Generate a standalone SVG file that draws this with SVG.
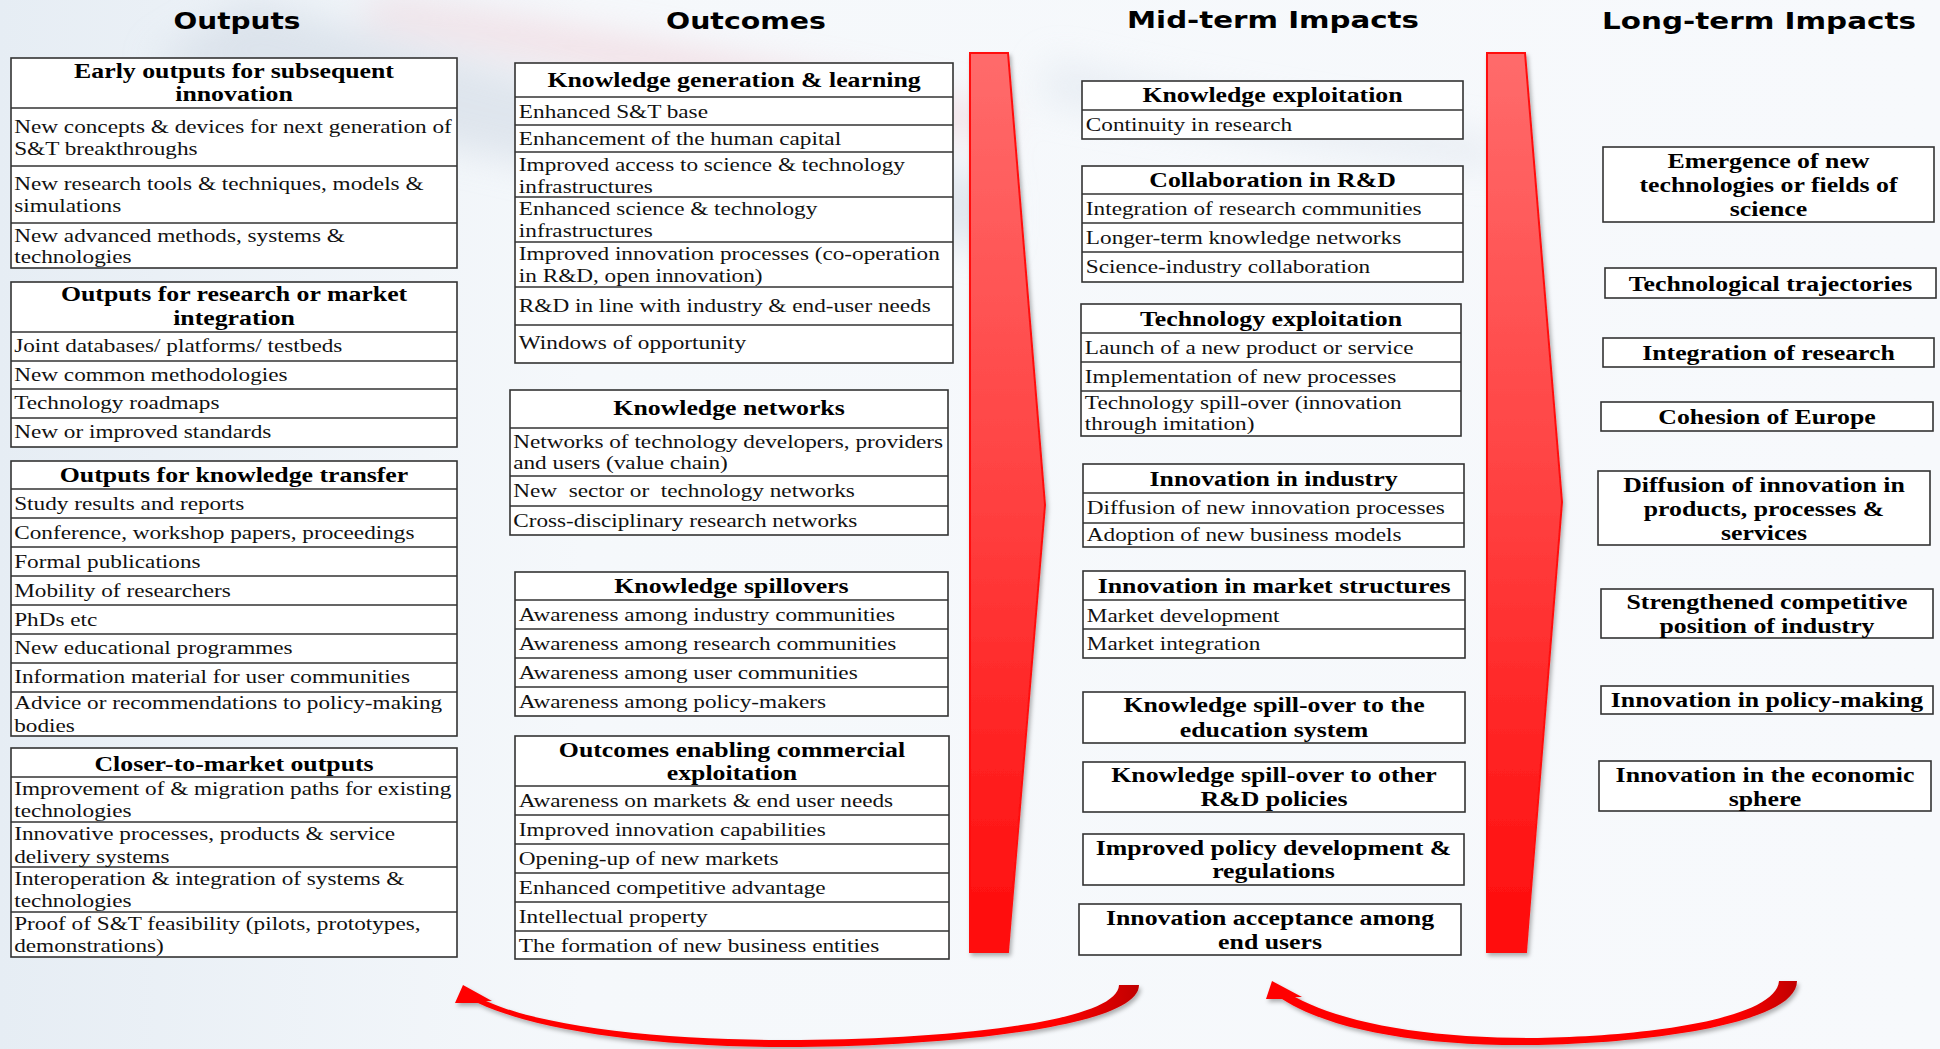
<svg xmlns="http://www.w3.org/2000/svg" width="1940" height="1049" viewBox="0 0 1940 1049">
<defs>
<style>
.t{font-family:"Liberation Serif","Times New Roman",serif;font-size:18px;fill:#111}
.h{font-family:"Liberation Serif","Times New Roman",serif;font-size:20px;font-weight:bold;fill:#000;text-anchor:middle}
.ttl{font-family:"DejaVu Sans",Verdana,sans-serif;font-size:23px;font-weight:bold;fill:#000;text-anchor:middle}
.box{fill:#fff;stroke:#333;stroke-width:1.6}
.sep{fill:none;stroke:#333;stroke-width:1.4}
.pre{white-space:pre}
</style>
<linearGradient id="bg" x1="0" y1="0" x2="1" y2="0">
<stop offset="0" stop-color="#e6edf4"/>
<stop offset="0.3" stop-color="#f5f8fb"/>
<stop offset="1" stop-color="#f7f9fc"/>
</linearGradient>
<linearGradient id="chev" x1="0" y1="0" x2="0" y2="1">
<stop offset="0" stop-color="#ff6b6b"/>
<stop offset="0.5" stop-color="#ff4040"/>
<stop offset="1" stop-color="#ff0a0a"/>
</linearGradient>
<linearGradient id="curv" x1="0" y1="0" x2="1" y2="0">
<stop offset="0" stop-color="#ff0000"/>
<stop offset="0.88" stop-color="#ff0000"/>
<stop offset="1" stop-color="#c00000"/>
</linearGradient>
<filter id="sh" x="-10%" y="-10%" width="130%" height="130%">
<feDropShadow dx="2" dy="3" stdDeviation="2" flood-color="#000" flood-opacity="0.3"/>
</filter>
<filter id="blur" x="-20%" y="-50%" width="140%" height="200%">
<feGaussianBlur stdDeviation="18"/>
</filter>
</defs>

<rect width="1940" height="1049" fill="url(#bg)"/>
<g filter="url(#blur)" opacity="0.55">
<path d="M250 0 C450 60 700 120 1000 180 L1000 250 C700 200 400 150 150 60 Z" fill="#cfd8e3"/>
<path d="M380 0 C600 30 800 70 1000 110 L1000 140 C780 110 560 60 360 20 Z" fill="#efc9d2"/>
<path d="M1050 60 C1200 100 1400 120 1500 140 L1500 170 C1350 150 1200 130 1040 100 Z" fill="#dbe3ec"/>
</g>

<!-- Column titles -->
<g id="titles">
<text class="ttl" x="237" y="29" textLength="127" lengthAdjust="spacingAndGlyphs">Outputs</text>
<text class="ttl" x="746" y="29" textLength="160" lengthAdjust="spacingAndGlyphs">Outcomes</text>
<text class="ttl" x="1273" y="28" textLength="292" lengthAdjust="spacingAndGlyphs">Mid-term Impacts</text>
<text class="ttl" x="1759" y="29" textLength="314" lengthAdjust="spacingAndGlyphs">Long-term Impacts</text>
</g>

<!-- Connectors -->
<g id="connectors">
<polygon points="970,53 1008,53 1045,505 1008,952 970,952" fill="url(#chev)" stroke="#ff1010" stroke-width="2" filter="url(#sh)"/>
<polygon points="1487,53 1525,53 1562,502 1526,952 1487,952" fill="url(#chev)" stroke="#ff1010" stroke-width="2" filter="url(#sh)"/>
<path d="M1139 985 C1139 1028 940 1046 800 1047 C660 1048 540 1032 478 1003 L455 1003 L463 985 L492 1001 L486 1001 C545 1028 670 1041 800 1040 C950 1039 1118 1022 1119 985 Z" fill="url(#curv)" filter="url(#sh)"/>
<path d="M1797 981 C1797 1025 1640 1044 1530 1045 C1420 1046 1330 1030 1282 999 L1266 999 L1272 981 L1302 997 L1295 997 C1345 1024 1430 1038 1530 1038 C1640 1037 1776 1020 1779 981 Z" fill="url(#curv)" filter="url(#sh)"/>
</g>

<!-- ===== Outputs ===== -->
<g id="out-early">
<rect class="box" x="11" y="58" width="446" height="210"/>
<path class="sep" d="M11 108H457M11 166H457M11 223H457"/>
<g transform="translate(11 0) scale(1.29 1)">
<text class="h" x="172.9" y="78">Early outputs for subsequent</text>
<text class="h" x="172.9" y="101">innovation</text>
<text class="t" x="2.5" y="133">New concepts &amp; devices for next generation of</text>
<text class="t" x="2.5" y="155">S&amp;T breakthroughs</text>
<text class="t" x="2.5" y="190">New research tools &amp; techniques, models &amp;</text>
<text class="t" x="2.5" y="212">simulations</text>
<text class="t" x="2.5" y="242">New advanced methods, systems &amp;</text>
<text class="t" x="2.5" y="263">technologies</text>
</g>
</g>

<g id="out-integration">
<rect class="box" x="11" y="282" width="446" height="165"/>
<path class="sep" d="M11 332H457M11 361H457M11 389H457M11 418H457"/>
<g transform="translate(11 0) scale(1.29 1)">
<text class="h" x="172.9" y="301">Outputs for research or market</text>
<text class="h" x="172.9" y="325">integration</text>
<text class="t" x="2.5" y="352">Joint databases/ platforms/ testbeds</text>
<text class="t" x="2.5" y="381">New common methodologies</text>
<text class="t" x="2.5" y="409">Technology roadmaps</text>
<text class="t" x="2.5" y="438">New or improved standards</text>
</g>
</g>

<g id="out-transfer">
<rect class="box" x="11" y="461" width="446" height="275"/>
<path class="sep" d="M11 489H457M11 518H457M11 547H457M11 576H457M11 605H457M11 634H457M11 663H457M11 692H457"/>
<g transform="translate(11 0) scale(1.29 1)">
<text class="h" x="172.9" y="482">Outputs for knowledge transfer</text>
<text class="t" x="2.5" y="510">Study results and reports</text>
<text class="t" x="2.5" y="539">Conference, workshop papers, proceedings</text>
<text class="t" x="2.5" y="568">Formal publications</text>
<text class="t" x="2.5" y="597">Mobility of researchers</text>
<text class="t" x="2.5" y="626">PhDs etc</text>
<text class="t" x="2.5" y="654">New educational programmes</text>
<text class="t" x="2.5" y="683">Information material for user communities</text>
<text class="t" x="2.5" y="709">Advice or recommendations to policy-making</text>
<text class="t" x="2.5" y="732">bodies</text>
</g>
</g>

<g id="out-closer">
<rect class="box" x="11" y="748" width="446" height="209"/>
<path class="sep" d="M11 777H457M11 822H457M11 867H457M11 912H457"/>
<g transform="translate(11 0) scale(1.29 1)">
<text class="h" x="172.9" y="771">Closer-to-market outputs</text>
<text class="t" x="2.5" y="795">Improvement of &amp; migration paths for existing</text>
<text class="t" x="2.5" y="817">technologies</text>
<text class="t" x="2.5" y="840">Innovative processes, products &amp; service</text>
<text class="t" x="2.5" y="863">delivery systems</text>
<text class="t" x="2.5" y="885">Interoperation &amp; integration of systems &amp;</text>
<text class="t" x="2.5" y="907">technologies</text>
<text class="t" x="2.5" y="930">Proof of S&amp;T feasibility (pilots, prototypes,</text>
<text class="t" x="2.5" y="952">demonstrations)</text>
</g>
</g>

<!-- ===== Outcomes ===== -->
<g id="oc-knowledge-generation">
<rect class="box" x="515" y="63" width="438" height="300"/>
<path class="sep" d="M515 97H953M515 125H953M515 152H953M515 197H953M515 242H953M515 287H953M515 325H953"/>
<g transform="translate(515 0) scale(1.29 1)">
<text class="h" x="169.8" y="87">Knowledge generation &amp; learning</text>
<text class="t" x="3" y="118">Enhanced S&amp;T base</text>
<text class="t" x="3" y="145">Enhancement of the human capital</text>
<text class="t" x="3" y="171">Improved access to science &amp; technology</text>
<text class="t" x="3" y="193">infrastructures</text>
<text class="t" x="3" y="215">Enhanced science &amp; technology</text>
<text class="t" x="3" y="237">infrastructures</text>
<text class="t" x="3" y="260">Improved innovation processes (co-operation</text>
<text class="t" x="3" y="282">in R&amp;D, open innovation)</text>
<text class="t" x="3" y="312">R&amp;D in line with industry &amp; end-user needs</text>
<text class="t" x="3" y="349">Windows of opportunity</text>
</g>
</g>

<g id="oc-knowledge-networks">
<rect class="box" x="510" y="390" width="438" height="145"/>
<path class="sep" d="M510 428H948M510 476H948M510 506H948"/>
<g transform="translate(510 0) scale(1.29 1)">
<text class="h" x="169.8" y="415">Knowledge networks</text>
<text class="t" x="2.5" y="448">Networks of technology developers, providers</text>
<text class="t" x="2.5" y="469">and users (value chain)</text>
<text class="t pre" x="2.5" y="497">New  sector or  technology networks</text>
<text class="t" x="2.5" y="527">Cross-disciplinary research networks</text>
</g>
</g>

<g id="oc-knowledge-spillovers">
<rect class="box" x="515" y="572" width="433" height="144"/>
<path class="sep" d="M515 600H948M515 629H948M515 658H948M515 687H948"/>
<g transform="translate(515 0) scale(1.29 1)">
<text class="h" x="167.8" y="593">Knowledge spillovers</text>
<text class="t" x="3" y="621">Awareness among industry communities</text>
<text class="t" x="3" y="650">Awareness among research communities</text>
<text class="t" x="3" y="679">Awareness among user communities</text>
<text class="t" x="3" y="708">Awareness among policy-makers</text>
</g>
</g>

<g id="oc-commercial">
<rect class="box" x="515" y="736" width="434" height="223"/>
<path class="sep" d="M515 786H949M515 815H949M515 844H949M515 873H949M515 902H949M515 931H949"/>
<g transform="translate(515 0) scale(1.29 1)">
<text class="h" x="168.2" y="757">Outcomes enabling commercial</text>
<text class="h" x="168.2" y="780">exploitation</text>
<text class="t" x="3" y="807">Awareness on markets &amp; end user needs</text>
<text class="t" x="3" y="836">Improved innovation capabilities</text>
<text class="t" x="3" y="865">Opening-up of new markets</text>
<text class="t" x="3" y="894">Enhanced competitive advantage</text>
<text class="t" x="3" y="923">Intellectual property</text>
<text class="t" x="3" y="952">The formation of new business entities</text>
</g>
</g>

<!-- ===== Mid-term Impacts ===== -->
<g id="mt-knowledge-exploitation">
<rect class="box" x="1082" y="81" width="381" height="58"/>
<path class="sep" d="M1082 110H1463"/>
<g transform="translate(1082 0) scale(1.29 1)">
<text class="h" x="147.7" y="102">Knowledge exploitation</text>
<text class="t" x="3" y="131">Continuity in research</text>
</g>
</g>

<g id="mt-collaboration">
<rect class="box" x="1082" y="166" width="381" height="116"/>
<path class="sep" d="M1082 194H1463M1082 223H1463M1082 252H1463"/>
<g transform="translate(1082 0) scale(1.29 1)">
<text class="h" x="147.7" y="187">Collaboration in R&amp;D</text>
<text class="t" x="3" y="215">Integration of research communities</text>
<text class="t" x="3" y="244">Longer-term knowledge networks</text>
<text class="t" x="3" y="273">Science-industry collaboration</text>
</g>
</g>

<g id="mt-technology-exploitation">
<rect class="box" x="1081" y="304" width="380" height="132"/>
<path class="sep" d="M1081 333H1461M1081 362H1461M1081 391H1461"/>
<g transform="translate(1081 0) scale(1.29 1)">
<text class="h" x="147.3" y="326">Technology exploitation</text>
<text class="t" x="3" y="354">Launch of a new product or service</text>
<text class="t" x="3" y="383">Implementation of new processes</text>
<text class="t" x="3" y="409">Technology spill-over (innovation</text>
<text class="t" x="3" y="430">through imitation)</text>
</g>
</g>

<g id="mt-innovation-industry">
<rect class="box" x="1083" y="464" width="381" height="83"/>
<path class="sep" d="M1083 493H1464M1083 523H1464"/>
<g transform="translate(1083 0) scale(1.29 1)">
<text class="h" x="147.7" y="486">Innovation in industry</text>
<text class="t" x="3" y="514">Diffusion of new innovation processes</text>
<text class="t" x="3" y="541">Adoption of new business models</text>
</g>
</g>

<g id="mt-innovation-market">
<rect class="box" x="1083" y="571" width="382" height="87"/>
<path class="sep" d="M1083 600H1465M1083 629H1465"/>
<g transform="translate(1083 0) scale(1.29 1)">
<text class="h" x="148.1" y="593">Innovation in market structures</text>
<text class="t" x="3" y="622">Market development</text>
<text class="t" x="3" y="650">Market integration</text>
</g>
</g>

<g id="mt-spill-education">
<rect class="box" x="1083" y="692" width="382" height="51"/>
<g transform="translate(1083 0) scale(1.29 1)">
<text class="h" x="148.1" y="712">Knowledge spill-over to the</text>
<text class="h" x="148.1" y="737">education system</text>
</g>
</g>

<g id="mt-spill-rd">
<rect class="box" x="1083" y="762" width="382" height="50"/>
<g transform="translate(1083 0) scale(1.29 1)">
<text class="h" x="148.1" y="782">Knowledge spill-over to other</text>
<text class="h" x="148.1" y="806">R&amp;D policies</text>
</g>
</g>

<g id="mt-policy">
<rect class="box" x="1083" y="834" width="381" height="51"/>
<g transform="translate(1083 0) scale(1.29 1)">
<text class="h" x="147.7" y="855">Improved policy development &amp;</text>
<text class="h" x="147.7" y="878">regulations</text>
</g>
</g>

<g id="mt-acceptance">
<rect class="box" x="1079" y="904" width="382" height="51"/>
<g transform="translate(1079 0) scale(1.29 1)">
<text class="h" x="148.1" y="925">Innovation acceptance among</text>
<text class="h" x="148.1" y="949">end users</text>
</g>
</g>

<!-- ===== Long-term Impacts ===== -->
<g id="lt-emergence">
<rect class="box" x="1603" y="147" width="331" height="75"/>
<g transform="translate(1603 0) scale(1.29 1)">
<text class="h" x="128.3" y="168">Emergence of new</text>
<text class="h" x="128.3" y="192">technologies or fields of</text>
<text class="h" x="128.3" y="216">science</text>
</g>
</g>

<g id="lt-trajectories">
<rect class="box" x="1605" y="268" width="331" height="30"/>
<g transform="translate(1605 0) scale(1.29 1)">
<text class="h" x="128.3" y="291">Technological trajectories</text>
</g>
</g>

<g id="lt-integration">
<rect class="box" x="1603" y="338" width="331" height="29"/>
<g transform="translate(1603 0) scale(1.29 1)">
<text class="h" x="128.3" y="360">Integration of research</text>
</g>
</g>

<g id="lt-cohesion">
<rect class="box" x="1601" y="402" width="332" height="29"/>
<g transform="translate(1601 0) scale(1.29 1)">
<text class="h" x="128.7" y="424">Cohesion of Europe</text>
</g>
</g>

<g id="lt-diffusion">
<rect class="box" x="1598" y="471" width="332" height="74"/>
<g transform="translate(1598 0) scale(1.29 1)">
<text class="h" x="128.7" y="492">Diffusion of innovation in</text>
<text class="h" x="128.7" y="516">products, processes &amp;</text>
<text class="h" x="128.7" y="540">services</text>
</g>
</g>

<g id="lt-competitive">
<rect class="box" x="1601" y="589" width="332" height="49"/>
<g transform="translate(1601 0) scale(1.29 1)">
<text class="h" x="128.7" y="609">Strengthened competitive</text>
<text class="h" x="128.7" y="633">position of industry</text>
</g>
</g>

<g id="lt-policy">
<rect class="box" x="1601" y="686" width="332" height="28"/>
<g transform="translate(1601 0) scale(1.29 1)">
<text class="h" x="128.7" y="707">Innovation in policy-making</text>
</g>
</g>

<g id="lt-economic">
<rect class="box" x="1599" y="761" width="332" height="50"/>
<g transform="translate(1599 0) scale(1.29 1)">
<text class="h" x="128.7" y="782">Innovation in the economic</text>
<text class="h" x="128.7" y="806">sphere</text>
</g>
</g>
</svg>
